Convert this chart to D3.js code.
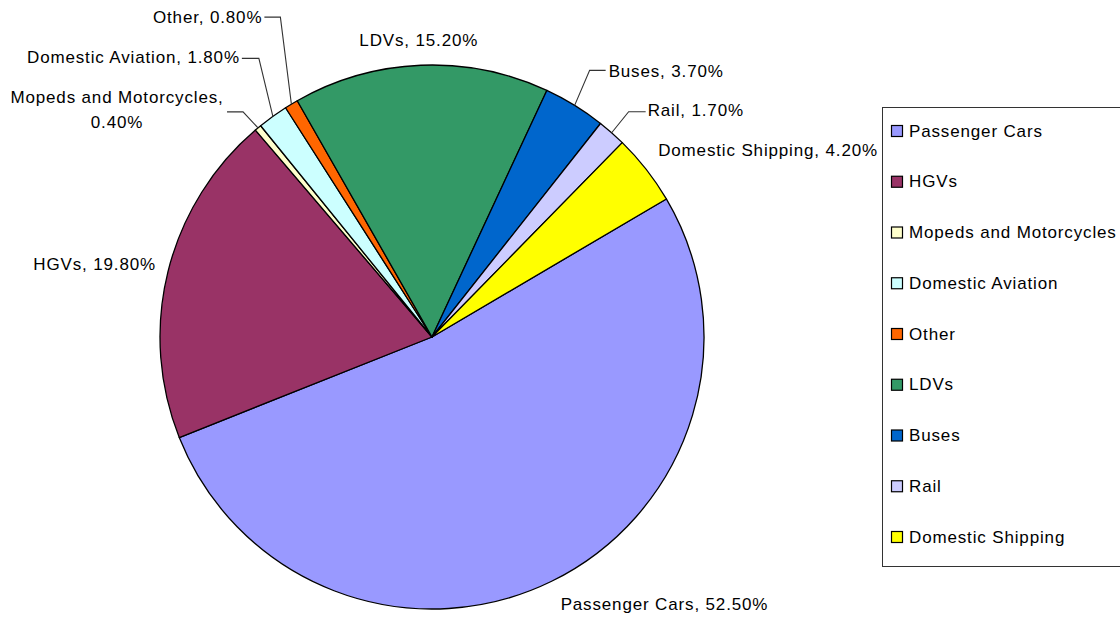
<!DOCTYPE html>
<html>
<head>
<meta charset="utf-8">
<script src="https://cdn.jsdelivr.net/npm/d3@7"></script>
<style>
  html, body { margin: 0; padding: 0; background: #fff; }
  svg { display: block; }
  text { font-family: "Liberation Sans", Arial, sans-serif; font-size: 17px; letter-spacing: 0.85px; fill: #000; }
</style>
</head>
<body>
<svg id="chart" width="1120" height="617"></svg>
<script>
// ---- data ----
const categories = ["Passenger Cars", "HGVs", "Mopeds and Motorcycles", "Domestic Aviation", "Other", "LDVs", "Buses", "Rail", "Domestic Shipping"];
const values = [52.5, 19.8, 0.4, 1.8, 0.8, 15.2, 3.7, 1.7, 4.2];
const colors = ["#9999FF", "#993366", "#FFFFCC", "#CCFFFF", "#FF6600", "#339966", "#0066CC", "#CCCCFF", "#FFFF00"];

// ---- layout ----
const W = 1120, H = 617;
const cx = 432, cy = 337, R = 272;
const startDeg = 59.5;

// label placement relative to the slice's outer mid-point: offset (dx, dy), anchor, optional elbow offset
const labelLayout = {
  "Passenger Cars":        { dx: 9,    dy: 23,  anchor: "start" },
  "HGVs":                  { dx: -12,  dy: -7,  anchor: "end" },
  "Mopeds and Motorcycles":{ dx: -141, dy: -31, anchor: "middle", elbow: [-15, -16], lineEnd: -31, twoLine: true },
  "Domestic Aviation":     { dx: -33,  dy: -59, anchor: "end", elbow: [-14, -58], lineEnd: -31 },
  "Other":                 { dx: -29,  dy: -87, anchor: "end", elbow: [-11, -87], lineEnd: -27 },
  "LDVs":                  { dx: -2,   dy: -25, anchor: "middle" },
  "Buses":                 { dx: 34,   dy: -34, anchor: "start", elbow: [15, -35], lineEnd: 31 },
  "Rail":                  { dx: 36,   dy: -22, anchor: "start", elbow: [17, -21], lineEnd: 34 },
  "Domestic Shipping":     { dx: 12,   dy: -19, anchor: "start" }
};

const svg = d3.select("#chart");
svg.append("rect").attr("width", W).attr("height", H).attr("fill", "#fff");

const data = categories.map((c, i) => ({ cat: c, value: values[i], color: colors[i] }));

const pie = d3.pie()
  .sort(null)
  .value(d => d.value)
  .startAngle(startDeg * Math.PI / 180)
  .endAngle(startDeg * Math.PI / 180 + 2 * Math.PI);

const arc = d3.arc().innerRadius(0).outerRadius(R);
const arcs = pie(data);

const g = svg.append("g").attr("transform", `translate(${cx},${cy})`);

g.selectAll("path.slice")
  .data(arcs)
  .join("path")
  .attr("class", "slice")
  .attr("d", arc)
  .attr("fill", d => d.data.color)
  .attr("stroke", "#000")
  .attr("stroke-width", 1.3)
  .attr("stroke-linejoin", "round");

// labels
const fmt = v => v.toFixed(2) + "%";
arcs.forEach(a => {
  const mid = (a.startAngle + a.endAngle) / 2;
  const px = cx + R * Math.sin(mid);
  const py = cy - R * Math.cos(mid);
  const L = labelLayout[a.data.cat];
  const tx = px + L.dx, ty = py + L.dy;

  if (L.elbow) {
    const ex = px + L.elbow[0], ey = py + L.elbow[1];
    svg.append("polyline")
      .attr("points", `${px},${py} ${ex},${ey} ${px + L.lineEnd},${ey}`)
      .attr("fill", "none")
      .attr("stroke", "#333")
      .attr("stroke-width", 1.1);
  }

  if (L.twoLine) {
    const t = svg.append("text")
      .attr("text-anchor", L.anchor)
      .attr("dominant-baseline", "central");
    t.append("tspan").attr("x", tx).attr("y", ty).text(a.data.cat + ",");
    t.append("tspan").attr("x", tx).attr("y", ty + 25).text(fmt(a.data.value));
  } else {
    svg.append("text")
      .attr("text-anchor", L.anchor)
      .attr("dominant-baseline", "central")
      .attr("x", tx).attr("y", ty)
      .text(`${a.data.cat}, ${fmt(a.data.value)}`);
  }
});

// legend
const legX = 882, legY = 107, legH = 459, legW = 250;
const legend = svg.append("g");
legend.append("rect")
  .attr("x", legX + 0.5).attr("y", legY + 0.5)
  .attr("width", legW).attr("height", legH)
  .attr("fill", "#fff").attr("stroke", "#333").attr("stroke-width", 1);

const ly = d3.scalePoint().domain(categories).range([legY + 24, legY + legH - 29]);
const items = legend.selectAll("g.item").data(data).join("g").attr("class", "item")
  .attr("transform", d => `translate(${legX + 9},${ly(d.cat)})`);
items.append("rect")
  .attr("x", 0.5).attr("y", -5.5).attr("width", 11).attr("height", 11)
  .attr("fill", d => d.color).attr("stroke", "#000").attr("stroke-width", 1.2);
items.append("text")
  .attr("x", 18).attr("y", 0)
  .attr("dominant-baseline", "central")
  .text(d => d.cat);
</script>
</body>
</html>
